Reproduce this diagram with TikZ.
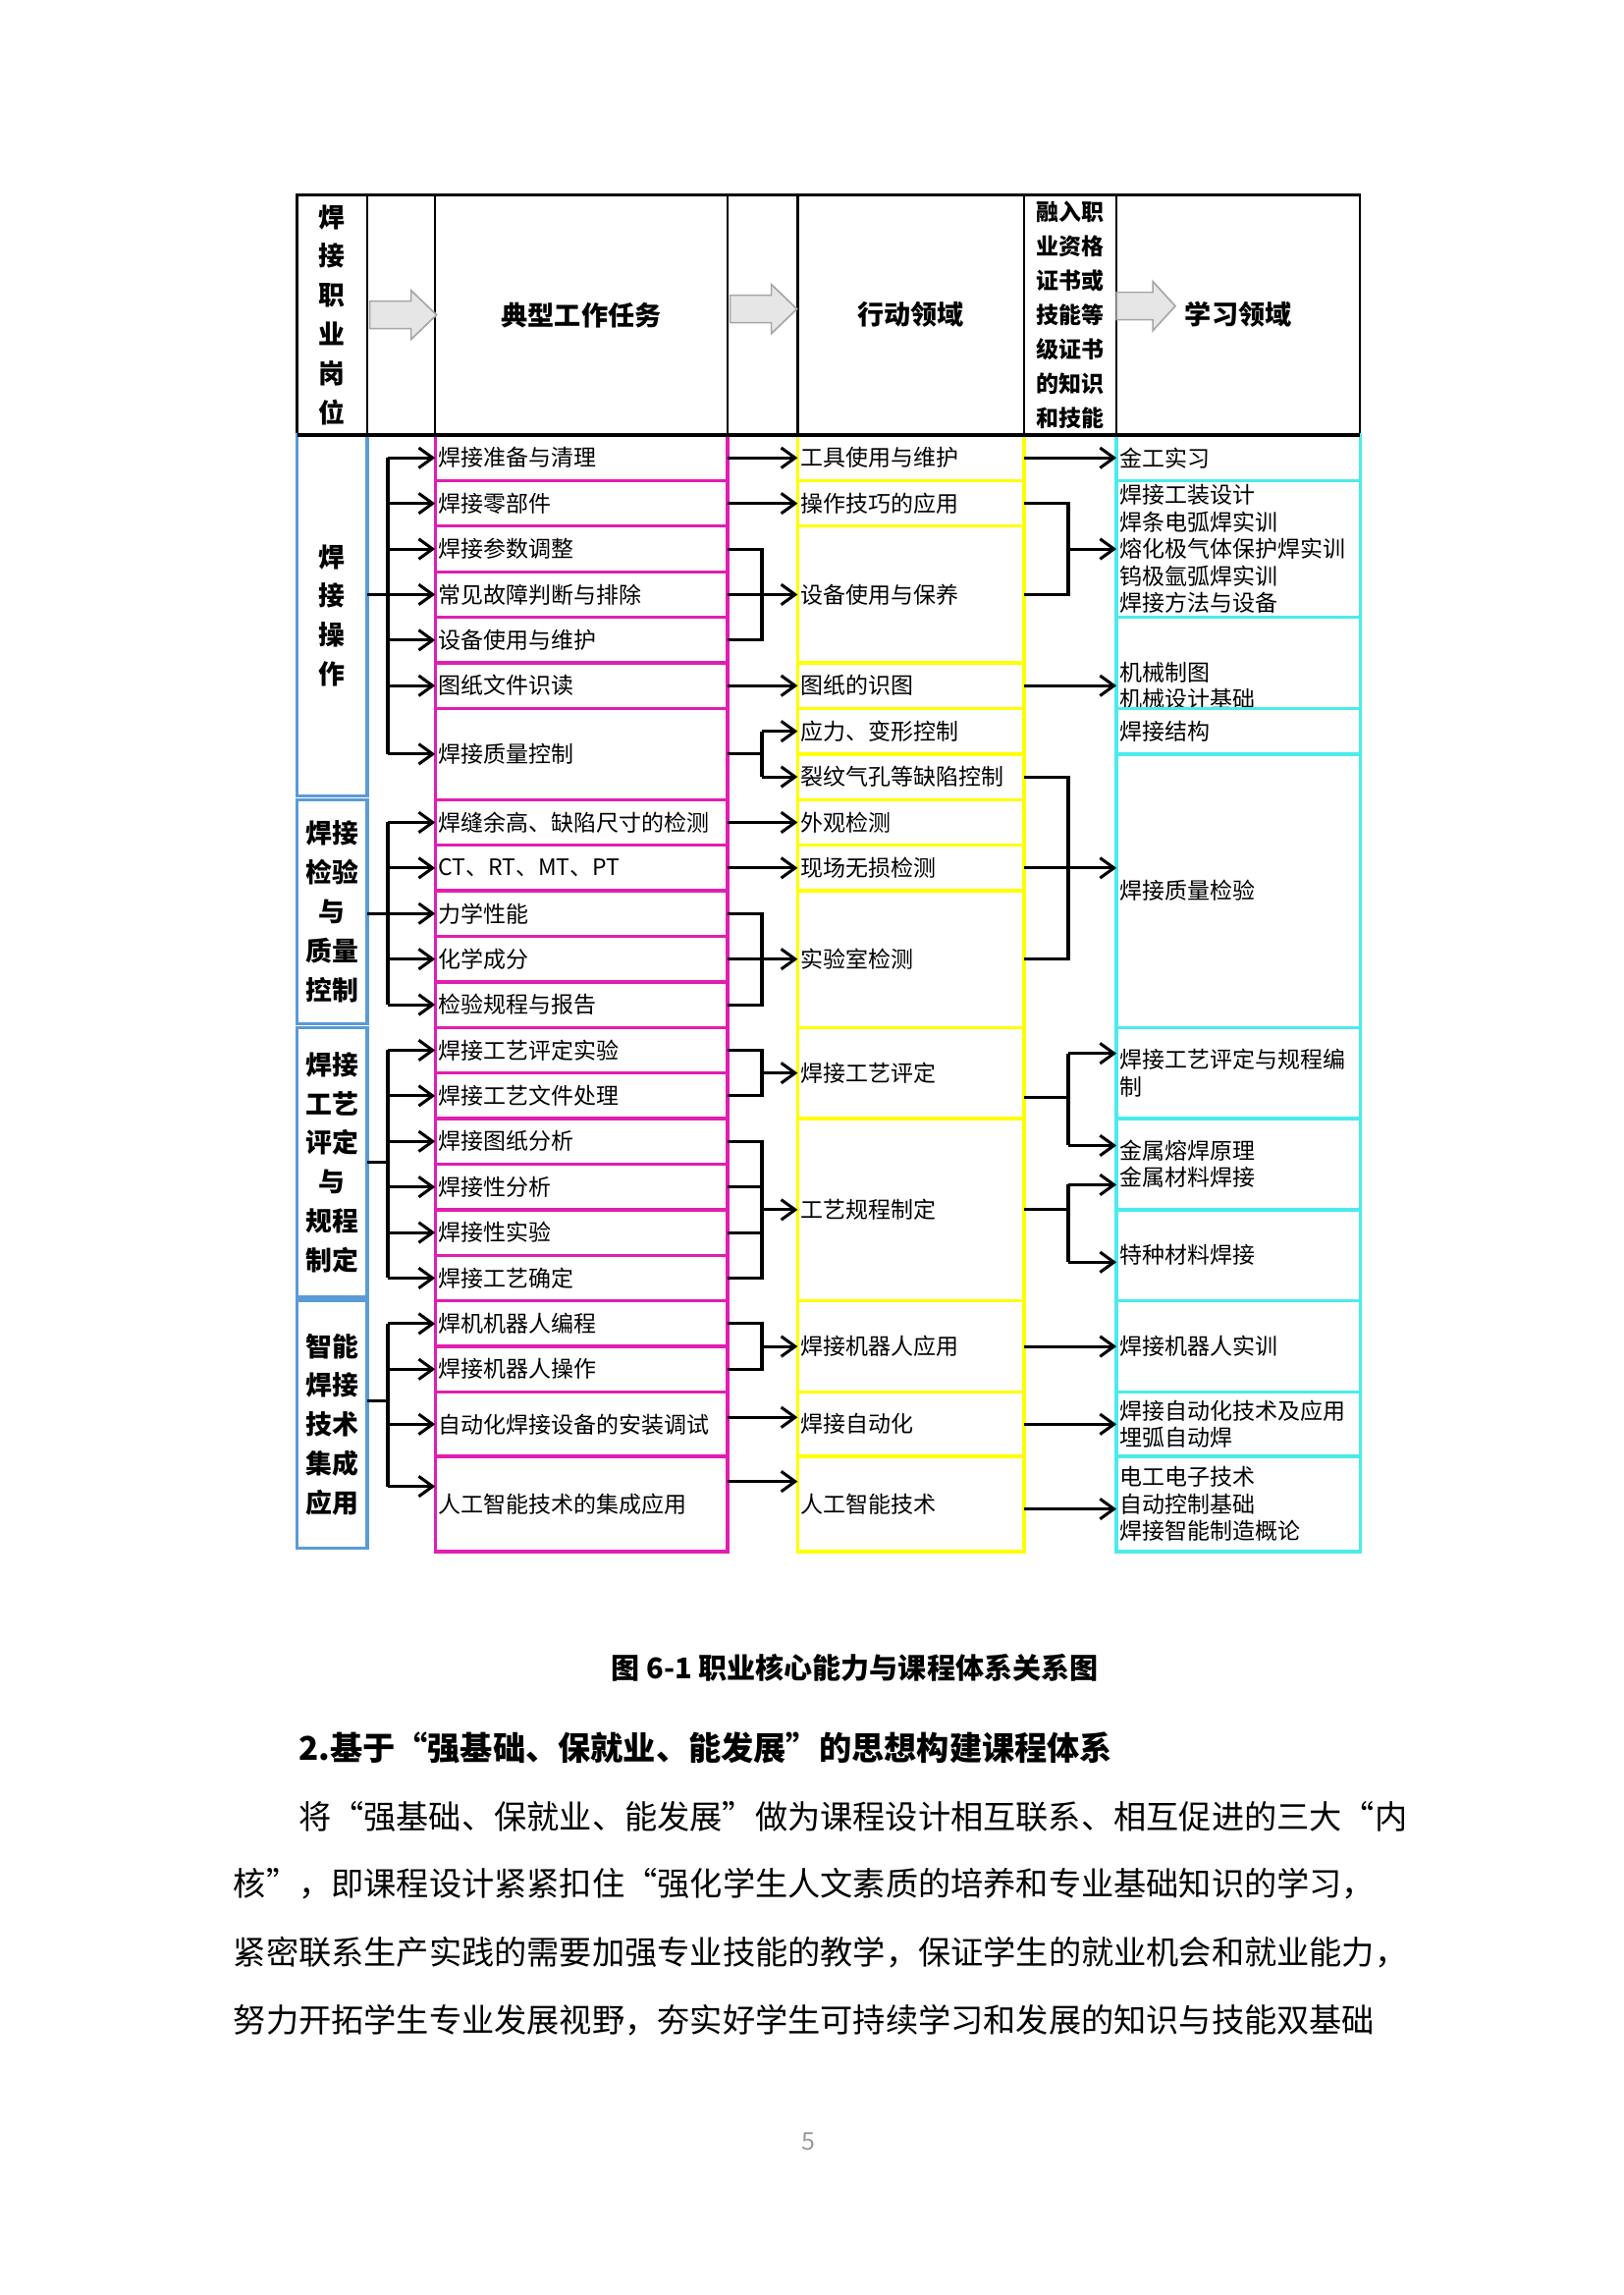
\documentclass[tikz,border=0pt]{standalone}
\usepackage{fontspec}
\setmainfont{Noto Sans CJK SC}
\usepackage{tikz}
\usetikzlibrary{arrows.meta,positioning,calc}
\definecolor{jobBlue}{HTML}{5B9BD5}
\definecolor{taskPink}{HTML}{E21DB2}
\definecolor{actYellow}{HTML}{FFFF00}
\definecolor{learnCyan}{HTML}{4BEBEB}
\definecolor{shadeGray}{HTML}{A6A6A6}
\definecolor{shadeFill}{HTML}{E6E6E6}
\definecolor{pageGray}{HTML}{9A9A9A}
\newcommand{\rowh}{5.893mm}
\newcommand{\cellfont}{\fontsize{8.3}{9.9}\selectfont}
\newcommand{\headfont}{\bfseries\fontsize{9.8}{12}\selectfont}
\newcommand{\jobfont}{\bfseries\fontsize{9.7}{14.4}\selectfont}
\newcommand{\certfont}{\bfseries\fontsize{8.3}{12.6}\selectfont}
\tikzset{
  headcell/.style={
    draw=black,
    line width=0.9pt,
    outer sep=0pt,
    inner sep=0pt,
    minimum height=31.08mm,
    align=center,
    font=\headfont
  },
  jobcell/.style={
    draw=jobBlue,
    line width=1.2pt,
    outer sep=0pt,
    inner sep=0pt,
    minimum width=9.07mm,
    align=center,
    font=\jobfont
  },
  taskcell/.style={
    draw=taskPink,
    line width=1.2pt,
    outer sep=0pt,
    inner xsep=1pt,
    inner ysep=0pt,
    minimum width=37.8mm,
    text width=37mm,
    minimum height=\rowh,
    align=left,
    font=\cellfont
  },
  actcell/.style={
    draw=actYellow,
    line width=1.2pt,
    outer sep=0pt,
    inner xsep=1pt,
    inner ysep=0pt,
    minimum width=29.3mm,
    text width=28.5mm,
    minimum height=\rowh,
    align=left,
    font=\cellfont
  },
  learncell/.style={
    draw=learnCyan,
    line width=1.2pt,
    outer sep=0pt,
    inner xsep=1pt,
    inner ysep=0pt,
    minimum width=31.5mm,
    text width=30.7mm,
    minimum height=\rowh,
    align=left,
    font=\cellfont
  },
  arrow/.style={-{Straight Barb[length=1.8mm,width=2.6mm]}, line width=1.1pt},
  link/.style={line width=1.1pt},
  pics/shadearrow/.style={code={
    \filldraw[fill=shadeFill, draw=shadeGray, line width=0.6pt]
      (-34,-14) -- (8,-14) -- (8,-25) -- (34,0) -- (8,25) -- (8,14) -- (-34,14) -- cycle;
  }}
}

\begin{document}
\begin{tikzpicture}[x=0.127mm, y=-0.127mm]
  \useasboundingbox (0,0) rectangle (1653,2337);

  % header
  \node[headcell, minimum width=9.07mm, anchor=north west, font=\jobfont] (h0) at (302.6,198.3) {焊\\接\\职\\业\\岗\\位};
  \node[headcell, minimum width=8.79mm, right=0pt of h0] (h1) {};
  \node[headcell, minimum width=37.8mm, right=0pt of h1] (h2) {典型工作任务};
  \node[headcell, minimum width=9.08mm, right=0pt of h2] (h3) {};
  \node[headcell, minimum width=29.3mm, right=0pt of h3] (h4) {行动领域};
  \node[headcell, minimum width=11.94mm, right=0pt of h4, font=\certfont] (h5) {融入职\\业资格\\证书或\\技能等\\级证书\\的知识\\和技能};
  \node[headcell, minimum width=31.5mm, right=0pt of h5] (h6) {学习领域};
  \pic at ($(h1.center)+(2,0)$) {shadearrow};
  \pic at ($(h3.center)+(1,-6)$) {shadearrow};
  \pic[xscale=0.88] at ($(h6.west)+(30,-9)$) {shadearrow};

  % job groups
  \node[jobcell, minimum height=8*\rowh-0.45mm, below=0pt of h0] (j0) {焊\\接\\操\\作};
  \node[jobcell, minimum height=5*\rowh-0.45mm, below=0.45mm of j0] (j1) {焊接\\检验\\与\\质量\\控制};
  \node[jobcell, minimum height=6*\rowh-0.45mm, below=0.45mm of j1] (j2) {焊接\\工艺\\评定\\与\\规程\\制定};
  \node[jobcell, minimum height=32.44mm-0.45mm, below=0.45mm of j2] (j3) {智能\\焊接\\技术\\集成\\应用};

  % typical tasks
  \node[taskcell, below=0pt of h2] (t0) {焊接准备与清理};
  \node[taskcell, below=0pt of t0] (t1) {焊接零部件};
  \node[taskcell, below=0pt of t1] (t2) {焊接参数调整};
  \node[taskcell, below=0pt of t2] (t3) {常见故障判断与排除};
  \node[taskcell, below=0pt of t3] (t4) {设备使用与维护};
  \node[taskcell, below=0pt of t4] (t5) {图纸文件识读};
  \node[taskcell, minimum height=2*\rowh, below=0pt of t5] (t6) {焊接质量控制};
  \node[taskcell, below=0pt of t6] (t7) {焊缝余高、缺陷尺寸的检测};
  \node[taskcell, below=0pt of t7] (t8) {CT、RT、MT、PT};
  \node[taskcell, below=0pt of t8] (t9) {力学性能};
  \node[taskcell, below=0pt of t9] (t10) {化学成分};
  \node[taskcell, below=0pt of t10] (t11) {检验规程与报告};
  \node[taskcell, below=0pt of t11] (t12) {焊接工艺评定实验};
  \node[taskcell, below=0pt of t12] (t13) {焊接工艺文件处理};
  \node[taskcell, below=0pt of t13] (t14) {焊接图纸分析};
  \node[taskcell, below=0pt of t14] (t15) {焊接性分析};
  \node[taskcell, below=0pt of t15] (t16) {焊接性实验};
  \node[taskcell, below=0pt of t16] (t17) {焊接工艺确定};
  \node[taskcell, below=0pt of t17] (t18) {焊机机器人编程};
  \node[taskcell, below=0pt of t18] (t19) {焊接机器人操作};
  \node[taskcell, minimum height=8.33mm, below=0pt of t19] (t20) {自动化焊接设备的安装调试};
  \node[taskcell, minimum height=12.32mm, below=0pt of t20] (t21) {人工智能技术的集成应用};

  % action fields
  \node[actcell, below=0pt of h4] (a0) {工具使用与维护};
  \node[actcell, below=0pt of a0] (a1) {操作技巧的应用};
  \node[actcell, minimum height=3*\rowh, below=0pt of a1] (a2) {设备使用与保养};
  \node[actcell, below=0pt of a2] (a3) {图纸的识图};
  \node[actcell, below=0pt of a3] (a4) {应力、变形控制};
  \node[actcell, below=0pt of a4] (a5) {裂纹气孔等缺陷控制};
  \node[actcell, below=0pt of a5] (a6) {外观检测};
  \node[actcell, below=0pt of a6] (a7) {现场无损检测};
  \node[actcell, minimum height=3*\rowh, below=0pt of a7] (a8) {实验室检测};
  \node[actcell, minimum height=2*\rowh, below=0pt of a8] (a9) {焊接工艺评定};
  \node[actcell, minimum height=4*\rowh, below=0pt of a9] (a10) {工艺规程制定};
  \node[actcell, minimum height=2*\rowh, below=0pt of a10] (a11) {焊接机器人应用};
  \node[actcell, minimum height=8.33mm, below=0pt of a11] (a12) {焊接自动化};
  \node[actcell, minimum height=12.32mm, below=0pt of a12] (a13) {人工智能技术};

  % learning fields
  \node[learncell, below=0pt of h6] (l0) {金工实习};
  \node[learncell, minimum height=3*\rowh, below=0pt of l0] (l1) {焊接工装设计\\焊条电弧焊实训\\熔化极气体保护焊实训\\钨极氩弧焊实训\\焊接方法与设备};
  \node[learncell, minimum height=2*\rowh, below=0pt of l1] (l2) {};
  \node[anchor=west, inner xsep=1pt, inner ysep=0pt, align=left, font=\cellfont] (l2text) at ($(l2.west)+(0,23)$) {机械制图\\机械设计基础};
  \node[learncell, below=0pt of l2] (l3) {焊接结构};
  \node[learncell, minimum height=6*\rowh, below=0pt of l3] (l4) {焊接质量检验};
  \node[learncell, minimum height=2*\rowh, below=0pt of l4] (l5) {焊接工艺评定与规程编\\制};
  \node[learncell, minimum height=2*\rowh, below=0pt of l5] (l6) {金属熔焊原理\\金属材料焊接};
  \node[learncell, minimum height=2*\rowh, below=0pt of l6] (l7) {特种材料焊接};
  \node[learncell, minimum height=2*\rowh, below=0pt of l7] (l8) {焊接机器人实训};
  \node[learncell, minimum height=8.33mm, below=0pt of l8] (l9) {焊接自动化技术及应用\\埋弧自动焊};
  \node[learncell, minimum height=12.32mm, below=0pt of l9] (l10) {电工电子技术\\自动控制基础\\焊接智能制造概论};

  \draw[line width=1.2pt] (h0.south west) -- (h6.south east);

  % buses
  \coordinate (busA) at (395,0);
  \coordinate (busB) at (776,0);
  \coordinate (busC) at (1088,0);

  % job groups -> tasks
  \draw[arrow] (j0.east |- t3.west) -- (t3.west);
  \draw[link] (busA |- t0.west) -- (busA |- t6.west);
  \draw[arrow] (busA |- t0.west) -- (t0.west);
  \draw[arrow] (busA |- t1.west) -- (t1.west);
  \draw[arrow] (busA |- t2.west) -- (t2.west);
  \draw[arrow] (busA |- t4.west) -- (t4.west);
  \draw[arrow] (busA |- t5.west) -- (t5.west);
  \draw[arrow] (busA |- t6.west) -- (t6.west);

  \draw[arrow] (j1.east |- t9.west) -- (t9.west);
  \draw[link] (busA |- t7.west) -- (busA |- t11.west);
  \draw[arrow] (busA |- t7.west) -- (t7.west);
  \draw[arrow] (busA |- t8.west) -- (t8.west);
  \draw[arrow] (busA |- t10.west) -- (t10.west);
  \draw[arrow] (busA |- t11.west) -- (t11.west);

  \draw[link] (j2.east) -- (busA |- j2.east);
  \draw[link] (busA |- t12.west) -- (busA |- t17.west);
  \draw[arrow] (busA |- t12.west) -- (t12.west);
  \draw[arrow] (busA |- t13.west) -- (t13.west);
  \draw[arrow] (busA |- t14.west) -- (t14.west);
  \draw[arrow] (busA |- t15.west) -- (t15.west);
  \draw[arrow] (busA |- t16.west) -- (t16.west);
  \draw[arrow] (busA |- t17.west) -- (t17.west);

  \coordinate (j3out) at ($(j3.east)+(0,-24)$);
  \coordinate (t21in) at ($(t21.west)+(0,-18)$);
  \draw[link] (j3out) -- (busA |- j3out);
  \draw[link] (busA |- t18.west) -- (busA |- t21in);
  \draw[arrow] (busA |- t18.west) -- (t18.west);
  \draw[arrow] (busA |- t19.west) -- (t19.west);
  \draw[arrow] (busA |- t20.west) -- (t20.west);
  \draw[arrow] (busA |- t21in) -- (t21in);

  % tasks -> action fields
  \draw[arrow] (t0.east) -- (a0.west);
  \draw[arrow] (t1.east) -- (a1.west);
  \draw[link] (t2.east) -- (busB |- t2.east) -- (busB |- t4.east) -- (t4.east);
  \draw[arrow] (t3.east) -- (a2.west);
  \draw[arrow] (t5.east) -- (a3.west);
  \draw[link] (t6.east) -- (busB |- t6.east);
  \draw[link] (busB |- a4.west) -- (busB |- a5.west);
  \draw[arrow] (busB |- a4.west) -- (a4.west);
  \draw[arrow] (busB |- a5.west) -- (a5.west);
  \draw[arrow] (t7.east) -- (a6.west);
  \draw[arrow] (t8.east) -- (a7.west);
  \draw[link] (t9.east) -- (busB |- t9.east) -- (busB |- t11.east) -- (t11.east);
  \draw[arrow] (t10.east) -- (a8.west);
  \draw[link] (t12.east) -- (busB |- t12.east) -- (busB |- t13.east) -- (t13.east);
  \draw[arrow] (busB |- a9.west) -- (a9.west);
  \draw[link] (t14.east) -- (busB |- t14.east) -- (busB |- t17.east) -- (t17.east);
  \draw[link] (t15.east) -- (busB |- t15.east);
  \draw[link] (t16.east) -- (busB |- t16.east);
  \draw[arrow] (busB |- a10.west) -- (a10.west);
  \draw[link] (t18.east) -- (busB |- t18.east) -- (busB |- t19.east) -- (t19.east);
  \draw[arrow] (busB |- a11.west) -- (a11.west);
  \draw[arrow] ($(t20.east)+(0,-7)$) -- ($(a12.west)+(0,-7)$);
  \draw[arrow] ($(t21.east)+(0,-23)$) -- ($(a13.west)+(0,-23)$);

  % action fields -> learning fields
  \draw[arrow] (a0.east) -- (l0.west);
  \draw[link] (a1.east) -- (busC |- a1.east) -- (busC |- a2.east) -- (a2.east);
  \draw[arrow] (busC |- l1.west) -- (l1.west);
  \draw[arrow] (a3.east) -- (l2.west |- a3.east);
  \draw[link] (a5.east) -- (busC |- a5.east) -- (busC |- a8.east) -- (a8.east);
  \draw[arrow] (a7.east) -- (l4.west |- a7.east);

  \coordinate (a9out) at ($(a9.east)+(0,25)$);
  \coordinate (l5in) at ($(l5.west)+(0,-20)$);
  \coordinate (l6inA) at ($(l6.west)+(0,-19)$);
  \coordinate (l6inB) at ($(l6.west)+(0,21)$);
  \coordinate (l7in) at ($(l7.west)+(0,7)$);
  \draw[link] (a9out) -- (busC |- a9out);
  \draw[link] (busC |- l5in) -- (busC |- l6inA);
  \draw[arrow] (busC |- l5in) -- (l5in);
  \draw[arrow] (busC |- l6inA) -- (l6inA);
  \draw[link] (a10.east) -- (busC |- a10.east);
  \draw[link] (busC |- l6inB) -- (busC |- l7in);
  \draw[arrow] (busC |- l6inB) -- (l6inB);
  \draw[arrow] (busC |- l7in) -- (l7in);
  \draw[arrow] (a11.east) -- (l8.west);
  \draw[arrow] (a12.east) -- (l9.west);
  \draw[arrow] ($(a13.east)+(0,5)$) -- ($(l10.west)+(0,5)$);

  % text below
  \node[font=\bfseries\fontsize{10.5}{12}\selectfont] (cap) at (870.5,1698) {图 6-1 职业核心能力与课程体系关系图};
  \node[anchor=west, inner sep=0pt, font=\bfseries\fontsize{12}{14}\selectfont] (sec) at (303.6,1780) {2.基于“强基础、保就业、能发展”的思想构建课程体系};
  \node[anchor=west, inner sep=0pt, font=\fontsize{12}{14}\selectfont] (par1) at (303.6,1850) {将“强基础、保就业、能发展”做为课程设计相互联系、相互促进的三大“内};
  \node[anchor=west, inner sep=0pt, font=\fontsize{12}{14}\selectfont] (par2) at (237.3,1918.3) {核”，即课程设计紧紧扣住“强化学生人文素质的培养和专业基础知识的学习，};
  \node[anchor=west, inner sep=0pt, font=\fontsize{12}{14}\selectfont] (par3) at (237.3,1988.3) {紧密联系生产实践的需要加强专业技能的教学，保证学生的就业机会和就业能力，};
  \node[anchor=west, inner sep=0pt, font=\fontsize{12}{14}\selectfont] (par4) at (237.3,2056.7) {努力开拓学生专业发展视野，夯实好学生可持续学习和发展的知识与技能双基础};
  \node[font=\fontsize{9}{10}\selectfont, text=pageGray] (pageno) at (823,2181) {5};
\end{tikzpicture}
\end{document}
